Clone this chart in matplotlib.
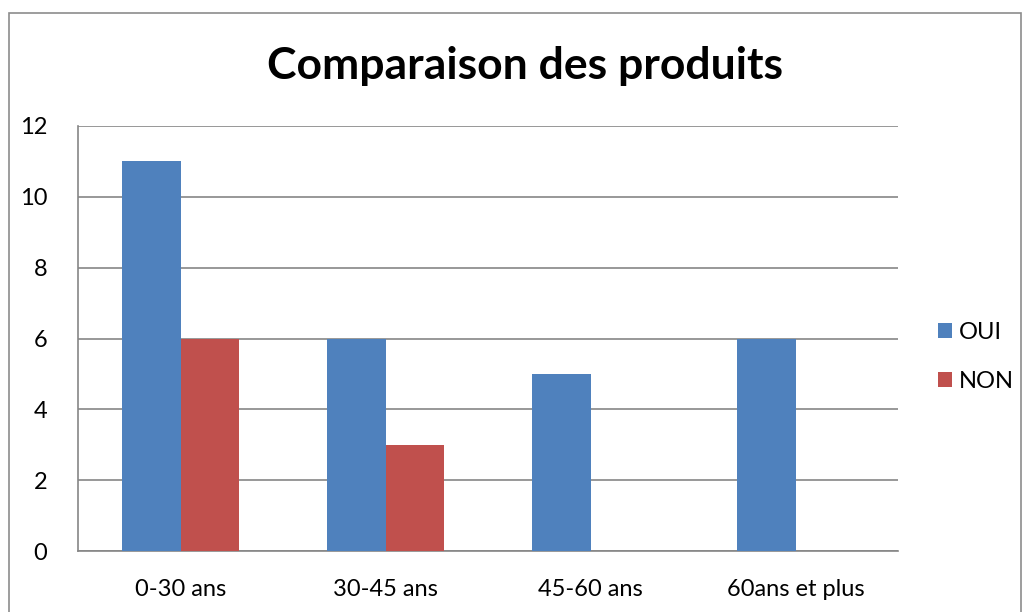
import numpy as np
import matplotlib.pyplot as plt
from matplotlib.patches import Rectangle

categories = ["0-30 ans", "30-45 ans", "45-60 ans", "60ans et plus"]
oui = [11, 6, 5, 6]
non = [6, 3, 0, 0]
series_names = ["OUI", "NON"]
colors = ["#4F81BD", "#C0504D"]

plt.rcParams['font.family'] = ['Lato', 'DejaVu Sans']

fig = plt.figure(figsize=(10.28, 6.12), dpi=100)
W, H = 1028, 612
# plot area in pixels
left, top, right, bottom = 78, 126, 898, 551
ax = fig.add_axes([left / W, 1 - bottom / H, (right - left) / W, (bottom - top) / H])

# outer chart border
fig.patches.append(Rectangle((9 / W, -0.1), 1012 / W, 1 - 13 / H + 0.1,
                             transform=fig.transFigure, fill=False,
                             edgecolor="#8c8c8c", linewidth=1.2))

x = np.arange(len(categories))
w = 1 / 3.5
ax.bar(x - w / 2, oui, w, color=colors[0], label=series_names[0], zorder=3)
ax.bar(x + w / 2, non, w, color=colors[1], label=series_names[1], zorder=3)

ax.set_xlim(-0.5, len(categories) - 0.5)
ax.set_ylim(0, 12)
ax.set_yticks(range(0, 13, 2))
ax.set_xticks(x)
ax.set_xticklabels(categories)
ax.grid(axis='y', color="#868686", linewidth=1.2, zorder=0)
for s in ["top", "right"]:
    ax.spines[s].set_visible(False)
for s in ["left", "bottom"]:
    ax.spines[s].set_color("#868686")
    ax.spines[s].set_linewidth(1.2)
ax.tick_params(axis='both', length=0, labelsize=17, colors="black")
ax.tick_params(axis='y', pad=22)
ax.tick_params(axis='x', pad=20)

fig.text(525 / W, 1 - 66 / H, "Comparaison des produits", ha='center', va='center',
         fontsize=32, fontweight='bold')

fig.legend(loc='center left', bbox_to_anchor=(938 / W, 1 - 357 / H), frameon=False,
           fontsize=17, handlelength=0.6, handleheight=0.6, handletextpad=0.3,
           labelspacing=1.2, borderpad=0, borderaxespad=0)

fig.savefig("out.png", dpi=100)
